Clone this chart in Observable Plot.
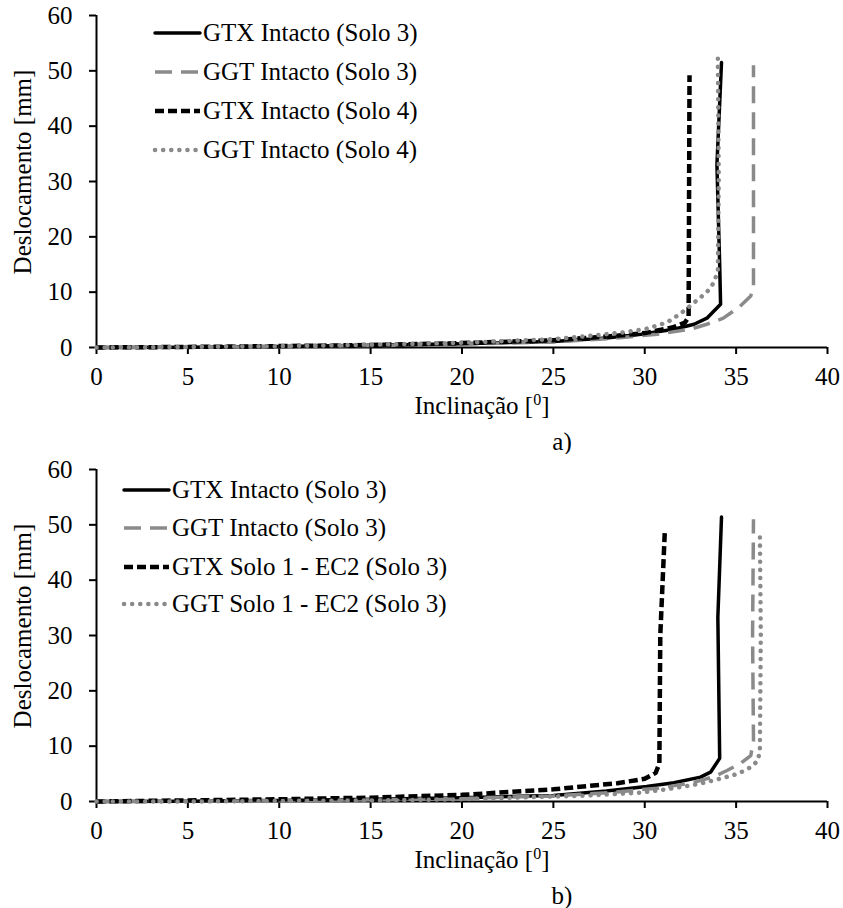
<!DOCTYPE html>
<html>
<head>
<meta charset="utf-8">
<script src="https://cdn.jsdelivr.net/npm/d3@7"></script>
<script src="https://cdn.jsdelivr.net/npm/@observablehq/plot@0.6"></script>
<style>
  html, body { margin: 0; padding: 0; background: #fff; }
  #root { position: relative; width: 843px; height: 908px; font-family: "Liberation Serif", "Times New Roman", serif; color: #000; }
  .panel { position: absolute; left: 0; width: 843px; height: 454px; }
  .txt { position: absolute; font-size: 25px; white-space: nowrap; line-height: 1; }
  .ytitle { transform: translate(-50%, -50%) rotate(-90deg); }
  .xtitle, .letter { transform: translate(-50%, -50%); }
  .leg { position: absolute; display: flex; align-items: center; font-size: 25px; white-space: nowrap; transform: translateY(-50%); }
  sup { font-size: 16px; vertical-align: 9px; line-height: 0; }
</style>
</head>
<body>
<div id="root"></div>
<script>
// ---- axis ticks ----
const xTicks = [0, 5, 10, 15, 20, 25, 30, 35, 40];
const yTicks = [0, 10, 20, 30, 40, 50, 60];

// ---- panel a) series: [Inclinação, Deslocamento] ----
const aGtxSolo3 = [[0,0],[5,0.05],[10,0.2],[15,0.4],[20,0.7],[25,1.1],[27.9,1.7],[29.8,2.4],[31.6,3.3],[32.7,4.2],[33.4,5.3],[34.15,7.8],[34.1,15],[33.95,33],[34.2,51.5]];
const aGgtSolo3 = [[0,0],[5,0.05],[10,0.15],[15,0.35],[20,0.6],[25,1.0],[28,1.6],[30.7,2.4],[32.5,3.3],[33.4,4.2],[34.3,5.3],[35.2,7.4],[35.8,9.3],[35.95,11],[35.95,51]];
const aGtxSolo4 = [[0,0],[5,0.1],[10,0.25],[15,0.45],[20,0.8],[25,1.3],[28,2.0],[30,2.6],[31.5,3.6],[32.2,4.5],[32.4,5.5],[32.45,49.2]];
const aGgtSolo4 = [[0,0],[5,0.1],[10,0.25],[15,0.5],[20,0.85],[25,1.5],[27,2.1],[29,2.8],[30.1,3.4],[31.2,4.5],[31.95,6.1],[32.7,8.1],[33.4,10],[33.8,11.8],[34.0,14],[34.05,30],[34.0,52.5]];

// ---- panel b) series ----
const bGtxSolo3 = [[0,0],[5,0.05],[10,0.2],[15,0.4],[20,0.7],[25,1.1],[27.9,1.9],[30.1,2.7],[31.6,3.4],[33.05,4.4],[33.6,5.3],[34.1,7.8],[34.0,33.3],[34.2,51.4]];
const bGgtSolo3 = [[0,0],[5,0.05],[10,0.15],[15,0.3],[20,0.55],[25,1.0],[28,1.6],[30.7,2.4],[32.5,3.3],[33.8,4.5],[34.5,5.6],[35.25,6.9],[35.8,8.3],[35.95,11],[35.9,30],[35.95,51]];
const bGtxEc2 = [[0,0],[5,0.2],[10,0.4],[15,0.7],[20,1.2],[25,2.2],[28.5,3.3],[30,4.1],[30.6,5.2],[30.8,6.9],[30.85,30],[31.1,49]];
const bGgtEc2 = [[0,0],[5,0.0],[10,0.1],[15,0.2],[20,0.4],[25,0.9],[27,1.1],[29.8,1.6],[31.6,2.4],[33.0,3.2],[34.1,4.1],[35.1,5.0],[35.8,6.2],[36.2,7.4],[36.3,9.5],[36.35,30],[36.3,48.5]];

// ---- legend labels ----
const aLabels = ["GTX Intacto (Solo 3)", "GGT Intacto (Solo 3)", "GTX Intacto (Solo 4)", "GGT Intacto (Solo 4)"];
const bLabels = ["GTX Intacto (Solo 3)", "GGT Intacto (Solo 3)", "GTX Solo 1 - EC2 (Solo 3)", "GGT Solo 1 - EC2 (Solo 3)"];

const GRAY = "#8a8a8a";
const styles = [
  {stroke: "#000", strokeWidth: 3.5, strokeDasharray: null, strokeLinecap: "round"},
  {stroke: GRAY, strokeWidth: 3.5, strokeDasharray: "17 9", strokeLinecap: "butt"},
  {stroke: "#000", strokeWidth: 4.5, strokeDasharray: "9 4", strokeLinecap: "butt"},
  {stroke: GRAY, strokeWidth: 4.5, strokeDasharray: "0.1 8", strokeLinecap: "round"}
];

function makePanel(top, series, labels, legend, letter) {
  const div = document.createElement("div");
  div.className = "panel";
  div.style.top = top + "px";

  const chart = Plot.plot({
    width: 843, height: 454,
    marginTop: 15, marginBottom: 107, marginLeft: 96, marginRight: 16,
    style: {fontFamily: '"Liberation Serif", "Times New Roman", serif', fontSize: "25px", color: "#000", background: "#fff"},
    x: {domain: [0, 40]},
    y: {domain: [0, 60]},
    marks: [
      Plot.axisX({ticks: xTicks, tickSize: 7, tickPadding: 13, strokeWidth: 2, label: null, fontSize: 25}),
      Plot.axisY({ticks: yTicks, tickSize: 7, tickPadding: 17, strokeWidth: 2, label: null, fontSize: 25}),
      Plot.ruleY([0], {stroke: "#000", strokeWidth: 2}),
      Plot.ruleX([0], {stroke: "#000", strokeWidth: 2}),
      ...series.map((s, i) => Plot.line(s, {x: d => d[0], y: d => d[1], ...Object.fromEntries(Object.entries(styles[i]).filter(([k, v]) => v != null)), strokeLinejoin: "round"}))
    ]
  });
  div.appendChild(chart);

  const yt = document.createElement("div");
  yt.className = "txt ytitle";
  yt.style.left = "22px"; yt.style.top = "172px";
  yt.textContent = "Deslocamento [mm]";
  div.appendChild(yt);

  const xt = document.createElement("div");
  xt.className = "txt xtitle";
  xt.style.left = "482px"; xt.style.top = "405px";
  xt.innerHTML = "Inclinação [<sup>0</sup>]";
  div.appendChild(xt);

  const lt = document.createElement("div");
  lt.className = "txt letter";
  lt.style.left = "562px"; lt.style.top = "441px";
  lt.textContent = letter;
  div.appendChild(lt);

  labels.forEach((lab, i) => {
    const row = document.createElement("div");
    row.className = "leg";
    row.style.left = legend.x + "px";
    row.style.top = legend.rows[i] + "px";
    const st = styles[i];
    const w = legend.w;
    row.innerHTML = `<svg width="${w}" height="10" style="margin-right:3px;overflow:visible"><line x1="2" y1="5" x2="${w}" y2="5" stroke="${st.stroke}" stroke-width="${st.strokeWidth}" ${st.strokeDasharray ? `stroke-dasharray="${st.strokeDasharray}"` : ""} stroke-linecap="${st.strokeLinecap}"/></svg><span>${lab}</span>`;
    div.appendChild(row);
  });
  return div;
}

const root = document.getElementById("root");
root.appendChild(makePanel(0, [aGtxSolo3, aGgtSolo3, aGtxSolo4, aGgtSolo4], aLabels, {x: 153, w: 47, rows: [33, 72, 111, 150]}, "a)"));
root.appendChild(makePanel(454, [bGtxSolo3, bGgtSolo3, bGtxEc2, bGgtEc2], bLabels, {x: 122, w: 47, rows: [36, 74, 113, 150]}, "b)"));
</script>
</body>
</html>
